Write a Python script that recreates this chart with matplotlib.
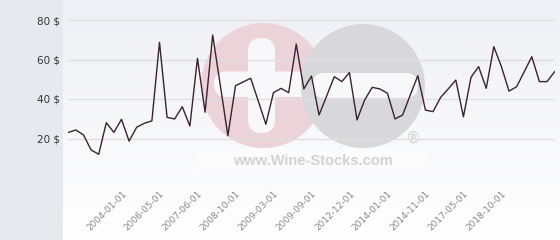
import numpy as np
import matplotlib
matplotlib.use("Agg")
import matplotlib.pyplot as plt
import matplotlib.transforms as mtransforms
from matplotlib.patches import Circle, FancyBboxPatch, Rectangle

# ---- data ----
prices = [23.1, 24.3, 21.8, 14.2, 12.0, 28.0, 23.1, 29.7, 18.7, 25.7,
          27.7, 28.9, 68.7, 30.7, 29.9, 36.1, 26.3, 60.6, 33.3, 72.4,
          47.1, 21.4, 46.7, 48.6, 50.5, 39.0, 27.2, 43.2, 45.4, 43.2,
          67.8, 45.1, 51.6, 31.9, 41.5, 51.3, 48.8, 53.4, 29.4, 39.5,
          45.9, 45.1, 42.9, 29.9, 31.9, 42.0, 51.8, 34.4, 33.6, 40.8,
          45.1, 49.6, 31.0, 51.0, 56.4, 45.4, 66.5, 56.4, 44.0, 46.2,
          53.8, 61.4, 48.8, 48.8, 53.8]
tick_labels = ["2004-01-01", "2006-05-01", "2007-06-01", "2008-10-01",
               "2009-03-01", "2009-09-01", "2012-12-01", "2014-01-01",
               "2014-11-01", "2017-05-01", "2018-10-01"]
tick_index = [8, 13, 18, 23, 28, 33, 38, 43, 48, 53, 58]
y_ticks = [20, 40, 60, 80]

W, H = 560, 240
fig = plt.figure(figsize=(W / 100, H / 100), dpi=100)

# ---- background layer in pixel coordinates ----
bg = fig.add_axes([0, 0, 1, 1], zorder=0)
bg.set_xlim(0, W)
bg.set_ylim(H, 0)
bg.axis("off")
grad = np.linspace(0, 1, 256).reshape(-1, 1)
top = np.array([0.937, 0.941, 0.961])
bot = np.array([1.0, 1.0, 1.0])
img = (top + (bot - top) * grad[..., None]).reshape(256, 1, 3)
bg.imshow(img, extent=[63, W, 240, 0], aspect="auto", zorder=0)
bg.add_patch(Rectangle((0, 0), 63, H, color="#e6eaee", zorder=1, lw=0))

# watermark
white = "#f8f8fa"
bg.add_patch(Circle((263.5, 85.5), 62.5, color="#ebd3d9", zorder=2, lw=0))
bg.add_patch(FancyBboxPatch((214, 71.5), 100, 25.5, boxstyle="round,pad=0,rounding_size=12.7",
                            color=white, zorder=3, lw=0))
bg.add_patch(FancyBboxPatch((248, 38), 27, 95, boxstyle="round,pad=0,rounding_size=13.5",
                            color=white, zorder=3, lw=0))
bg.add_patch(Circle((363, 86), 62, color="#d8d8da", zorder=4, lw=0))
bg.add_patch(FancyBboxPatch((312, 73), 106, 25, boxstyle="round,pad=0,rounding_size=12.5",
                            color=white, zorder=5, lw=0))
bg.add_patch(Rectangle((197, 148), 230, 26, color="#ffffff", alpha=0.4, zorder=5, lw=0))
bg.text(313, 161, "www.Wine-Stocks.com", fontsize=10.5, fontweight="bold",
        family="Liberation Sans", color="#d2d2d2", ha="center", va="center", zorder=6)
bg.text(413, 138, "®", fontsize=10.5, color="#d0d0d0", ha="center", va="center", zorder=6)

# ---- chart ----
x0, x1 = 68.3, 554.6
ax = fig.add_axes([x0 / W, (H - 178) / H, (x1 - x0) / W, 178 / H], zorder=1)
ax.patch.set_alpha(0)
x = np.arange(len(prices))
ax.plot(x, prices, color="#3a2230", lw=1.0, zorder=3)
ax.set_xlim(0, len(prices) - 1)
ax.set_ylim(0, 178 * 20 / 39.5)
for v in [0] + y_ticks:
    ax.axhline(v, color="#dfdfe2", lw=1.0, zorder=1)
for s in ax.spines.values():
    s.set_visible(False)
ax.set_yticks(y_ticks)
ax.set_yticklabels([f"{v} $" for v in y_ticks], fontsize=7.5, color="#333333")
ax.tick_params(axis="y", length=0, pad=6)
ax.set_xticks(tick_index)
ax.set_xticklabels(tick_labels, rotation=45, ha="right", va="center",
                   rotation_mode="anchor", fontsize=6.5, color="#888888")
ax.tick_params(axis="x", length=0, pad=10)
shift = mtransforms.ScaledTranslation(-4 / 100, 0, fig.dpi_scale_trans)
for lab in ax.get_xticklabels():
    lab.set_transform(lab.get_transform() + shift)

fig.savefig("out.png", dpi=100)
